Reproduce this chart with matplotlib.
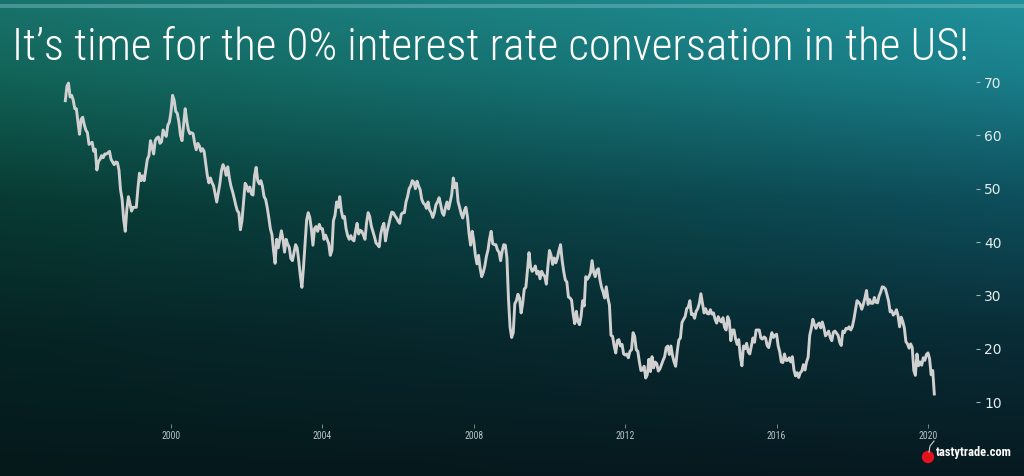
import numpy as np
import matplotlib
matplotlib.use("Agg")
import matplotlib.pyplot as plt
from matplotlib.patches import Ellipse, Rectangle

# 10y treasury yield (x10), read twice a month (mid, end), Mar 1997 - Feb 2020
y1997 = [66.5, 69.2, 69.8, 67.2, 67.5, 66.6, 65.0, 65.0, 62.5, 60.2,
         63.0, 63.4, 62.0, 61.0, 60.5, 58.3, 58.5, 58.7, 57.0, 57.4]
y1998 = [53.5, 55.1, 55.5, 56.2, 55.8, 56.5, 56.5, 56.7, 57.0, 55.5, 55.0, 54.5,
         55.0, 54.9, 53.5, 49.8, 48.0, 44.2, 42.0, 46.1, 48.5, 47.1, 45.8, 46.5]
y1999 = [46.5, 46.5, 50.0, 52.9, 51.5, 52.4, 51.5, 53.5, 55.5, 56.2, 59.0, 57.8,
         56.5, 59.0, 59.5, 59.7, 58.5, 58.8, 61.0, 60.2, 59.8, 61.9, 62.5, 64.4]
y2000 = [67.5, 66.6, 64.5, 64.1, 62.5, 60.0, 59.0, 62.1, 65.0, 62.7, 61.0, 60.3,
         60.5, 60.3, 58.5, 57.3, 58.5, 58.0, 57.0, 57.5, 57.0, 54.7, 52.5, 51.1]
y2001 = [52.0, 51.1, 50.5, 49.0, 47.5, 49.2, 51.0, 53.4, 54.5, 53.8, 52.5, 54.1,
         52.0, 50.5, 49.5, 48.3, 47.0, 45.9, 45.5, 42.3, 44.0, 47.5, 51.0, 50.5]
y2002 = [49.5, 50.3, 49.0, 48.8, 52.5, 54.0, 51.5, 50.9, 51.5, 50.4, 48.5, 48.0,
         46.5, 44.6, 42.5, 41.4, 38.5, 36.0, 40.5, 38.9, 40.5, 42.1, 40.5, 38.1]
y2003 = [40.5, 39.6, 39.0, 36.9, 36.5, 38.0, 39.5, 38.9, 36.5, 33.7, 31.5, 35.2,
         39.5, 44.1, 45.5, 44.6, 42.5, 39.4, 42.5, 42.9, 42.0, 43.3, 42.5, 42.5]
y2004 = [40.5, 41.3, 40.5, 39.7, 37.5, 38.4, 44.0, 45.0, 47.5, 46.5, 48.5, 45.8,
         44.5, 44.8, 42.5, 41.2, 40.5, 41.2, 40.5, 40.2, 42.0, 43.5, 41.5, 42.2]
y2005 = [42.0, 41.3, 40.5, 43.6, 45.5, 44.8, 43.0, 42.0, 41.0, 39.8, 39.5, 39.1,
         41.5, 42.8, 43.5, 40.2, 42.0, 43.2, 44.5, 45.6, 45.5, 44.9, 44.5, 43.9]
y2006 = [43.5, 45.2, 45.5, 45.5, 47.5, 48.5, 50.0, 50.5, 51.5, 51.2, 50.0, 51.4,
         50.5, 49.8, 48.0, 47.3, 47.0, 46.3, 47.5, 46.0, 45.5, 44.6, 45.5, 47.0]
y2007 = [47.5, 48.3, 47.0, 45.5, 45.0, 46.4, 47.5, 46.2, 47.5, 48.9, 52.0, 50.2,
         51.0, 47.6, 46.5, 45.3, 44.5, 45.8, 46.5, 44.7, 41.5, 39.4, 42.0, 40.2]
y2008 = [37.5, 35.9, 37.5, 35.1, 33.5, 34.3, 35.5, 37.3, 38.5, 40.6, 42.0, 39.7,
         39.5, 39.5, 38.5, 38.1, 36.5, 38.3, 39.5, 39.4, 37.0, 29.3, 24.0, 22.1]
y2009 = [23.0, 28.4, 29.0, 30.2, 29.5, 26.7, 28.5, 31.2, 31.5, 34.6, 38.0, 35.3,
         34.5, 34.8, 35.5, 34.0, 34.5, 33.1, 34.5, 33.9, 33.5, 32.1, 35.5, 38.4]
y2010 = [37.5, 35.8, 37.0, 36.1, 37.0, 38.4, 39.5, 36.6, 34.5, 32.9, 32.5, 29.7,
         29.5, 29.1, 26.5, 24.7, 27.0, 25.1, 24.5, 26.0, 29.0, 28.0, 33.5, 33.0]
y2011 = [33.5, 34.2, 36.5, 34.3, 33.5, 34.7, 35.0, 32.9, 31.5, 30.6, 29.5, 31.6,
         29.5, 28.2, 22.5, 22.3, 20.5, 19.2, 21.5, 21.7, 20.5, 20.8, 19.0, 18.8]
y2012 = [19.0, 18.3, 19.5, 19.8, 23.0, 22.3, 19.8, 19.5, 17.5, 15.9, 16.0, 16.7,
         14.5, 15.1, 18.0, 15.7, 18.5, 16.4, 17.5, 17.2, 15.8, 16.2, 17.0, 17.8]
y2013 = [18.5, 20.2, 20.5, 18.9, 20.5, 18.7, 17.5, 16.7, 19.5, 21.6, 22.0, 24.9,
         25.5, 26.0, 27.5, 27.8, 29.0, 26.4, 26.5, 25.7, 27.0, 27.5, 28.5, 30.3]
y2014 = [28.5, 26.7, 27.5, 26.6, 26.5, 27.3, 26.5, 26.7, 25.5, 24.8, 26.0, 25.3,
         25.0, 25.8, 24.0, 23.5, 26.0, 25.2, 21.5, 23.5, 23.5, 21.8, 20.8, 21.7]
y2015 = [18.5, 16.8, 20.5, 20.0, 21.0, 19.4, 19.0, 20.5, 22.0, 21.2, 23.5, 23.5,
         23.5, 22.0, 21.8, 22.2, 22.0, 20.6, 20.2, 21.6, 23.0, 22.1, 22.5, 22.7]
y2016 = [20.5, 19.4, 17.5, 17.4, 19.0, 17.8, 17.8, 18.3, 17.5, 18.5, 16.0, 14.9,
         15.5, 14.6, 15.5, 15.8, 17.0, 16.0, 17.5, 18.4, 22.5, 23.8, 25.5, 24.5]
y2017 = [23.8, 24.5, 24.8, 23.9, 25.0, 23.9, 22.4, 22.8, 23.3, 22.1, 21.5, 23.1,
         23.3, 22.9, 22.5, 21.2, 20.6, 23.3, 23.0, 23.8, 23.7, 24.1, 23.5, 24.1]
y2018 = [25.5, 27.2, 29.0, 28.7, 28.3, 27.4, 28.3, 29.5, 30.9, 28.3, 29.2, 28.5,
         28.5, 29.6, 28.7, 28.6, 29.9, 30.6, 31.6, 31.5, 31.2, 30.1, 28.9, 26.9]
y2019 = [27.1, 26.3, 26.6, 27.3, 26.2, 24.1, 25.9, 25.1, 23.9, 21.3, 20.9, 20.1,
         20.9, 20.2, 15.9, 15.0, 19.0, 16.8, 17.5, 16.9, 18.3, 17.8, 18.9, 19.2]
y2020 = [18.1, 15.1, 15.9, 11.5]

values = np.array(y1997 + y1998 + y1999 + y2000 + y2001 + y2002 + y2003 + y2004
                  + y2005 + y2006 + y2007 + y2008 + y2009 + y2010 + y2011 + y2012
                  + y2013 + y2014 + y2015 + y2016 + y2017 + y2018 + y2019 + y2020)

yticks = [10, 20, 30, 40, 50, 60, 70]
xticks = [2000, 2004, 2008, 2012, 2016, 2020]
title = "It\u2019s time for the 0% interest rate conversation in the US!"

# time axis: first reading mid-March 1997, two per month
idx = np.arange(len(values))
months = 2 + idx // 2
t = 1997 + (months + np.where(idx % 2 == 0, 0.5, 1.0)) / 12

W, H = 1024, 476
fig = plt.figure(figsize=(W / 100, H / 100), dpi=100)
cond = ["Roboto Condensed", "DejaVu Sans"]

# background gradient
bg = fig.add_axes([0, 0, 1, 1])
bg.axis("off")
stops = [0.0, 0.15, 0.42, 0.7, 1.0]
left_c = np.array([(25, 115, 108), (18, 100, 88), (8, 58, 50), (6, 36, 36), (5, 24, 26)]) / 255
right_c = np.array([(32, 145, 155), (26, 128, 140), (14, 78, 92), (9, 45, 55), (7, 25, 32)]) / 255
yy = np.linspace(0, 1, H)
xx = np.linspace(0, 1, W)[None, :, None]
lc = np.stack([np.interp(yy, stops, left_c[:, k]) for k in range(3)], axis=-1)[:, None, :]
rc = np.stack([np.interp(yy, stops, right_c[:, k]) for k in range(3)], axis=-1)[:, None, :]
img = lc * (1 - xx) + rc * xx
bg.imshow(img, aspect="auto", extent=[0, 1, 0, 1], origin="upper")
bg.add_patch(Rectangle((0, 1 - 8 / H), 1, 4 / H, color=(0.45, 0.72, 0.74), alpha=0.5, lw=0))
bg.set_xlim(0, 1)
bg.set_ylim(0, 1)

# main chart
px_year = (928 - 171) / 20
px_unit = (402 - 82) / 60
ax_l, ax_r, ax_t, ax_b = 0, 976, 60, 424
ax = fig.add_axes([ax_l / W, 1 - ax_b / H, (ax_r - ax_l) / W, (ax_b - ax_t) / H])
ax.patch.set_alpha(0)
ax.plot(t, values, color="#d0d0d0", lw=2.1, solid_joinstyle="round")
ax.set_xlim(2000 - (171 - ax_l) / px_year, 2000 + (ax_r - 171) / px_year)
ax.set_ylim(10 - (ax_b - 402) / px_unit, 10 + (402 - ax_t) / px_unit)
for s in ax.spines.values():
    s.set_visible(False)
ax.yaxis.tick_right()
ax.set_yticks(yticks)
ax.set_xticks(xticks)
ax.tick_params(axis="y", colors="#9fb4b8", labelcolor="#e4ecec", length=3, width=0.8,
               pad=3, labelsize=10)
ax.tick_params(axis="x", colors="#8a9a9e", labelcolor="#b8c4c6", length=3, width=0.6,
               pad=2, labelsize=7)
for lab in ax.get_xticklabels():
    lab.set_family(cond)

fig.text(12 / W, 1 - 60 / H, title, color="white", fontsize=32.4, fontweight="light",
         family=cond, ha="left", va="baseline")

# logo
bg.plot([929 / W, 930 / W, 934 / W], [1 - 452 / H, 1 - 446 / H, 1 - 441 / H],
        color="#d0d0d0", lw=0.8)
bg.add_patch(Ellipse((928 / W, 1 - 457 / H), 11 / W, 11 / H, color="#e3121c"))
fig.text(936 / W, 1 - 456 / H, "tastytrade.com", color="white", fontsize=9,
         fontweight="bold", family=cond, ha="left", va="baseline")

fig.savefig("out.png", dpi=100)
